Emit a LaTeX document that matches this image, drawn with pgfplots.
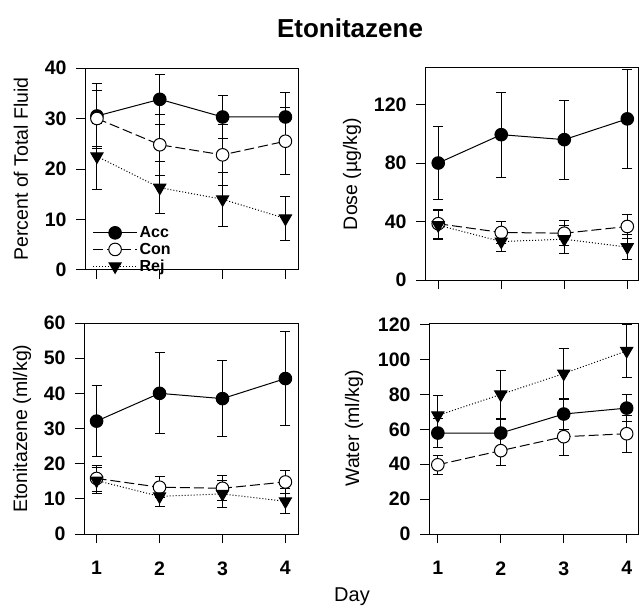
\documentclass[border=0pt]{standalone}
\usepackage{fontspec}
\setmainfont{Liberation Sans}
\usepackage{pgfplots}
\pgfplotsset{compat=1.18}

\pgfplotsset{
  panel/.style={
    scale only axis,
    axis line style={line width=1pt},
    xtick={1,2,3,4}, ymin=0,
    tick align=outside, major tick length=9pt,
    tick style={line width=1pt, black},
    xtick pos=bottom, ytick pos=left,
    ticklabel style={font=\fontsize{19.5}{19.5}\selectfont\bfseries},
    yticklabel style={xshift=-6pt},
    xticklabel style={yshift=-15pt},
    /pgf/number format/assume math mode=true,
    label style={font=\fontsize{19.5}{19.5}\selectfont},
    ylabel style={at={(rel axis cs:0,0.5)}, anchor=center},
    clip=false,
  },
  eb/.style={
    error bars/y dir=both, error bars/y explicit,
    error bars/error bar style={line width=1pt, solid, black},
    error bars/error mark options={rotate=90, mark size=5pt, line width=1pt, solid, black},
  },
  acc/.style={eb, black, solid, line width=1pt, mark=*, mark size=6.3pt,
    mark options={solid, fill=black}},
  con/.style={eb, black, dash pattern=on 10pt off 4pt, line width=1pt, mark=*, mark size=6.3pt,
    mark options={solid, fill=white}},
  rej/.style={eb, black, dash pattern=on 1pt off 2pt, line width=1pt, mark=triangle*, mark size=7pt,
    mark options={solid, fill=black, rotate=180}},
}

\begin{document}
\begin{tikzpicture}
\path[use as bounding box] (0,0) rectangle (639pt,-609pt);

\node at (350pt,-28pt) {\fontsize{26}{26}\selectfont\bfseries Etonitazene};
\node at (352pt,-597pt) {\fontsize{20}{20}\selectfont Day};

% percent of total fluid
\begin{axis}[panel, at={(85pt,-270pt)}, width=213pt, height=202pt,
  xmin=0.81, xmax=4.2, ymax=40, ytick={0,10,20,30,40}, xticklabels={},
  ylabel={Percent of Total Fluid}, ylabel style={yshift=64pt},
  legend style={at={(rel axis cs:0.03,-0.03)}, anchor=south west, draw=none, fill=none,
    font=\fontsize{16}{16}\selectfont\bfseries, row sep=0pt, inner sep=1pt},
  legend cell align=left,
  legend image code/.code={\draw[mark repeat=2,mark phase=2] plot coordinates {(0pt,0pt)(22pt,0pt)(44pt,0pt)};},
]
\addplot[acc] coordinates {(1,30.5) +- (0,6.4) (2,33.8) +- (0,4.9) (3,30.3) +- (0,4.2) (4,30.3) +- (0,4.9)};
\addlegendentry{Acc}
\addplot[con] coordinates {(1,30.0) +- (0,5.5) (2,24.8) +- (0,6.0) (3,22.8) +- (0,6.0) (4,25.5) +- (0,6.6)};
\addlegendentry{Con}
\addplot[rej] coordinates {(1,22.5) +- (0,6.5) (2,16.3) +- (0,5.2) (3,14.0) +- (0,5.4) (4,10.2) +- (0,4.3)};
\addlegendentry{Rej}
\end{axis}

% dose
\begin{axis}[panel, at={(425pt,-280pt)}, width=213pt, height=212pt,
  xmin=0.79, xmax=4.17, ymax=145, ytick={0,40,80,120}, xticklabels={},
  ylabel={Dose (µg/kg)}, ylabel style={yshift=73pt},
]
\addplot[acc] coordinates {(1,80) +- (0,25) (2,99.4) +- (0,29) (3,96) +- (0,27) (4,110.2) +- (0,33.6)};
\addplot[con] coordinates {(1,38.5) +- (0,10) (2,32.5) +- (0,7.5) (3,32) +- (0,8.5) (4,36.6) +- (0,8)};
\addplot[rej] coordinates {(1,37.5) +- (0,10) (2,26.3) +- (0,7) (3,27.9) +- (0,9.5) (4,22.5) +- (0,8.5)};
\end{axis}

% etonitazene intake
\begin{axis}[panel, at={(84pt,-534pt)}, width=214pt, height=211pt,
  xmin=0.8, xmax=4.2, ymax=60, ytick={0,10,...,60},
  ylabel={Etonitazene (ml/kg)}, ylabel style={yshift=62pt},
]
\addplot[acc] coordinates {(1,32.1) +- (0,10) (2,40) +- (0,11.5) (3,38.5) +- (0,10.8) (4,44.2) +- (0,13.3)};
\addplot[con] coordinates {(1,15.8) +- (0,3.8) (2,13.3) +- (0,3) (3,13) +- (0,3.5) (4,14.8) +- (0,3.3)};
\addplot[rej] coordinates {(1,15.2) +- (0,3.7) (2,10.7) +- (0,2.9) (3,11.4) +- (0,3.8) (4,9.3) +- (0,3.6)};
\end{axis}

% water
\begin{axis}[panel, at={(429pt,-534pt)}, width=209pt, height=211pt,
  xmin=0.86, xmax=4.18, ymax=121, ytick={0,20,...,120},
  ylabel={Water (ml/kg)}, ylabel style={yshift=75pt},
]
\addplot[acc] coordinates {(1,57.9) +- (0,8.2) (2,57.9) +- (0,8) (3,68.8) +- (0,8.6) (4,72.2) +- (0,7.7)};
\addplot[con] coordinates {(1,39.7) +- (0,5.6) (2,47.8) +- (0,8.4) (3,55.8) +- (0,10.7) (4,57.5) +- (0,10.7)};
\addplot[rej] coordinates {(1,68) +- (0,11.5) (2,80) +- (0,14) (3,92) +- (0,14.3) (4,105) +- (0,15)};
\end{axis}
\end{tikzpicture}
\end{document}
